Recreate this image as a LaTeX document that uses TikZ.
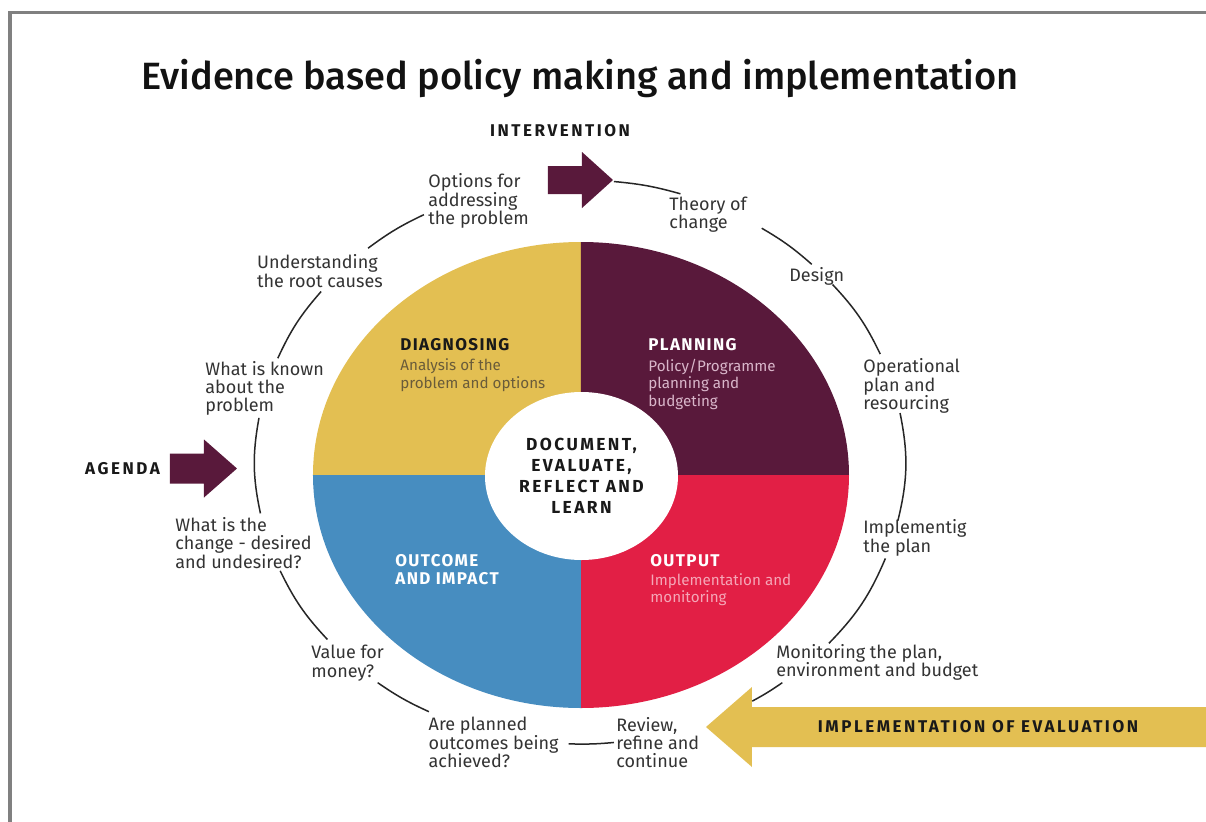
\documentclass[tikz,border=0pt]{standalone}
\usepackage{fontspec}
\setmainfont{Fira Sans}
\newfontfamily\titlefont{Fira Sans Medium}
\newfontfamily\widecaps{Fira Sans}[LetterSpace=15]
\newfontfamily\headcaps{Fira Sans}[LetterSpace=8]
\newfontfamily\midcaps{Fira Sans}[LetterSpace=14]
\usetikzlibrary{positioning,shapes.geometric}

\definecolor{diagyellow}{HTML}{E3BF52}
\definecolor{planpurple}{HTML}{59193B}
\definecolor{outred}{HTML}{E21F45}
\definecolor{impblue}{HTML}{478DC0}
\definecolor{ringtext}{HTML}{333333}
\definecolor{diagsubtext}{HTML}{6A5C3A}
\definecolor{plansubtext}{HTML}{D9B6CA}
\definecolor{outsubtext}{HTML}{F5A6B7}

\begin{document}
\begin{tikzpicture}[
    x = 0.5pt, y = 0.5pt, % one unit = one pixel of the reference
    ringline/.style = {draw=black!85, line width=0.75pt},
    ringlabel/.style = {inner sep=0pt, anchor=west, align=left, text=ringtext,
        font=\fontsize{9}{9.2}\selectfont},
    bigcaps/.style = {inner sep=0pt, text=black!90,
        font=\widecaps\bfseries\fontsize{8.5}{10}\selectfont},
    heading/.style = {inner sep=0pt, anchor=west, align=left,
        font=\headcaps\bfseries\fontsize{8.5}{8.8}\selectfont},
    subtext/.style = {inner sep=0pt, align=left,
        font=\fontsize{7.6}{8.8}\selectfont}
    ]

    \clip (-580,-359) rectangle (626,462);
    \fill[white] (-580,-359) rectangle (626,462);
    \draw[gray, line width=1.75pt] (-570,-370) |- (640,449.5);

    \node[font=\titlefont\fontsize{19}{21}\selectfont, text=black!93] (title) at (0,384)
        {Evidence based policy making and implementation};

    % the four quarters
    \coordinate (hub) at (1,-13);
    \fill[diagyellow] (hub) -- ++(-268,0) arc[start angle=180, end angle=90, x radius=268, y radius=233] -- cycle;
    \fill[planpurple] (hub) -- ++(0,233) arc[start angle=90, end angle=0, x radius=268, y radius=233] -- cycle;
    \fill[outred] (hub) -- ++(268,0) arc[start angle=0, end angle=-90, x radius=268, y radius=233] -- cycle;
    \fill[impblue] (hub) -- ++(0,-233) arc[start angle=-90, end angle=-180, x radius=268, y radius=233] -- cycle;

    \node[ellipse, fill=white, minimum width=96.5pt, minimum height=84pt, inner sep=0pt,
        align=center, text=black!90, font=\midcaps\bfseries\fontsize{8.7}{10.5}\selectfont]
        (learn) at (1.5,-14) {DOCUMENT,\\EVALUATE,\\REFLECT AND\\LEARN};

    \node[heading, text=black!90] (diag) at (-180,117) {DIAGNOSING};
    \node[subtext, text=diagsubtext, below right=3.5pt and 0pt of diag.south west] (diagsub)
        {Analysis of the\\problem and options};
    \node[heading, text=white] (plan) at (68,117) {PLANNING};
    \node[subtext, text=plansubtext, below right=3.5pt and 0pt of plan.south west] (plansub)
        {Policy/Programme\\planning and\\budgeting};
    \node[heading, text=white] (outc) at (-185,-107.5) {OUTCOME\\AND IMPACT};
    \node[heading, text=white] (outp) at (70,-98.5) {OUTPUT};
    \node[subtext, text=outsubtext, below right=3pt and 0pt of outp.south west] (outpsub)
        {Implementation and\\monitoring};

    % arrows into the cycle
    \fill[planpurple] (-32,268) -- (2,268) -- (2,254) -- (33,282) -- (2,310) -- (2,296) -- (-32,296) -- cycle;
    \fill[planpurple] (-410,-21.5) -- (-376,-21.5) -- (-376,-35.5) -- (-343,-6.5) -- (-376,22.5) -- (-376,8.5) -- (-410,8.5) -- cycle;
    \fill[diagyellow] (640,-285) -- (172,-285) -- (172,-305) -- (126,-265) -- (172,-225) -- (172,-245) -- (640,-245) -- cycle;

    \node[bigcaps] (intv) at (-20,331) {INTERVENTION};
    \node[bigcaps] (agenda) at (-457.5,-7) {AGENDA};
    \node[bigcaps] (evalu) at (398,-265) {IMPLEMENTATION OF EVALUATION};

    % labels round the cycle
    \node[ringlabel] (opts) at (-152,261) {Options for\\addressing\\the problem};
    \node[ringlabel] (theory) at (89,247.3) {Theory of\\change};
    \node[ringlabel] (design) at (209,186) {Design};
    \node[ringlabel] (oper) at (283,76) {Operational\\plan and\\resourcing};
    \node[ringlabel] (impl) at (283,-75.7) {Implementig\\the plan};
    \node[ringlabel] (monit) at (196,-200.5) {Monitoring the plan,\\environment and budget};
    \node[ringlabel] (review) at (36,-280.5) {Review,\\refine and\\continue};
    \node[ringlabel] (achieved) at (-151.7,-280.5) {Are planned\\outcomes being\\achieved?};
    \node[ringlabel] (money) at (-269,-201.3) {Value for\\money?};
    \node[ringlabel] (change) at (-405,-80.8) {What is the\\change - desired\\and undesired?};
    \node[ringlabel] (known) at (-375,73.7) {What is known\\about the\\problem};
    \node[ringlabel] (roots) at (-323.3,191) {Understanding\\the root causes};

    % ends of the ring pieces
    \coordinate (r1a) at (72:325 and 282);
    \coordinate (r1b) at (84:325 and 282);
    \coordinate (r2a) at (44.5:325 and 282);
    \coordinate (r2b) at (56:325 and 282);
    \coordinate (r3a) at (22.5:325 and 282);
    \coordinate (r3b) at (39:325 and 282);
    \coordinate (r4a) at (-12:325 and 282);
    \coordinate (r4b) at (10:325 and 282);
    \coordinate (r5a) at (-40:325 and 282);
    \coordinate (r5b) at (-20:325 and 282);
    \coordinate (r6a) at (-58:325 and 282);
    \coordinate (r6b) at (-51.5:325 and 282);
    \coordinate (r7a) at (-92:325 and 282);
    \coordinate (r7b) at (-84:325 and 282);
    \coordinate (r8a) at (-128.5:325 and 282);
    \coordinate (r8b) at (-117.7:325 and 282);
    \coordinate (r9a) at (-157.3:325 and 282);
    \coordinate (r9b) at (-141:325 and 282);
    \coordinate (r10a) at (171:325 and 282);
    \coordinate (r10b) at (190.5:325 and 282);
    \coordinate (r11a) at (142.8:325 and 282);
    \coordinate (r11b) at (158.4:325 and 282);
    \coordinate (r12a) at (118.7:325 and 282);
    \coordinate (r12b) at (130.7:325 and 282);

    \draw[ringline] (r1a) to[bend right=5.3] (r1b);
    \draw[ringline] (r2a) to[bend right=5.6] (r2b);
    \draw[ringline] (r3a) to[bend right=8.8] (r3b);
    \draw[ringline] (r4a) to[bend right=12.6] (r4b);
    \draw[ringline] (r5a) to[bend right=10.6] (r5b);
    \draw[ringline] (r6a) to[bend right=3.1] (r6b);
    \draw[ringline] (r7a) to[bend right=3.5] (r7b);
    \draw[ringline] (r8a) to[bend right=5.1] (r8b);
    \draw[ringline] (r9a) to[bend right=8.6] (r9b);
    \draw[ringline] (r10a) to[bend right=11.2] (r10b);
    \draw[ringline] (r11a) to[bend right=8.3] (r11b);
    \draw[ringline] (r12a) to[bend right=5.7] (r12b);
\end{tikzpicture}
\end{document}
